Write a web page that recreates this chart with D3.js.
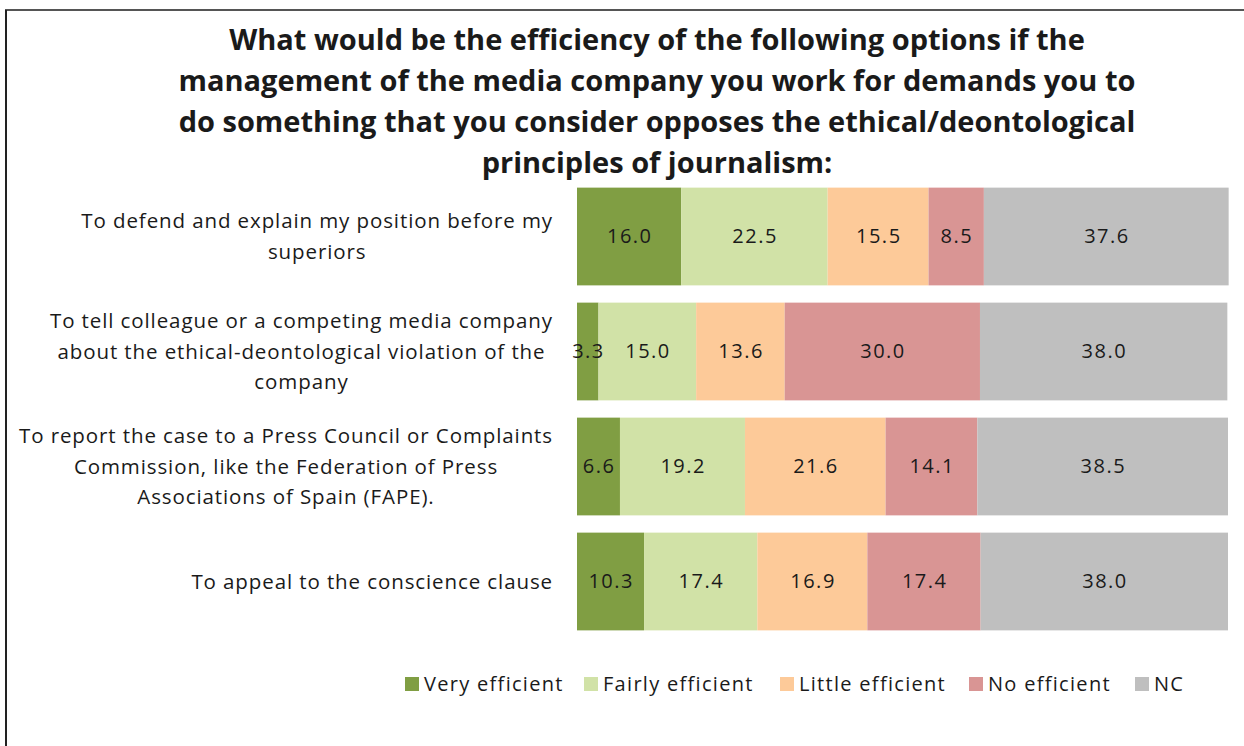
<!DOCTYPE html>
<html>
<head>
<meta charset="utf-8">
<script src="https://cdn.jsdelivr.net/npm/d3@7"></script>
<style>
  body { margin: 0; background: #fff; }
  svg { display: block; }
  text { font-family: "Open Sans", sans-serif; fill: #1a1a1a; }
</style>
</head>
<body>
<svg width="1244" height="746"></svg>
<script>
var titleLines = [
  "What would be the efficiency of the following options if the",
  "management of the media company you work for demands you to",
  "do something that you consider opposes the ethical/deontological",
  "principles of journalism:"
];

var categories = [
  ["To defend and explain my position before my", "superiors"],
  ["To tell colleague or a competing media company", "about the ethical-deontological violation of the", "company"],
  ["To report the case to a Press Council or Complaints", "Commission, like the Federation of Press", "Associations of Spain (FAPE)."],
  ["To appeal to the conscience clause"]
];

var seriesNames = ["Very efficient", "Fairly efficient", "Little efficient", "No efficient", "NC"];
var colors = ["#809e43", "#d1e2a7", "#fdca99", "#d99594", "#bfbfbf"];

var veryEfficient   = [16.0, 3.3, 6.6, 10.3];
var fairlyEfficient = [22.5, 15.0, 19.2, 17.4];
var littleEfficient = [15.5, 13.6, 21.6, 16.9];
var noEfficient     = [8.5, 30.0, 14.1, 17.4];
var nc              = [37.6, 38.0, 38.5, 38.0];

var series = [veryEfficient, fairlyEfficient, littleEfficient, noEfficient, nc];

var svg = d3.select("svg");

// frame lines
svg.append("line").attr("x1", 5).attr("x2", 1244).attr("y1", 10).attr("y2", 10)
  .attr("stroke", "#555").attr("stroke-width", 2);
svg.append("line").attr("x1", 6).attr("x2", 6).attr("y1", 10).attr("y2", 746)
  .attr("stroke", "#222").attr("stroke-width", 2);

// title
svg.append("g").selectAll("text")
  .data(titleLines)
  .enter().append("text")
    .attr("x", 657)
    .attr("y", function(d, i) { return 50 + i * 41; })
    .attr("text-anchor", "middle")
    .style("font-weight", "bold")
    .style("font-size", "29px")
    .text(function(d) { return d; });

var rows = categories.map(function(c, i) {
  var row = { index: i, lines: c };
  var x0 = 0;
  row.segs = series.map(function(s, j) {
    var seg = { key: j, x0: x0, x1: x0 + s[i], value: s[i] };
    x0 += s[i];
    return seg;
  });
  return row;
});

var x = d3.scaleLinear().domain([0, 100]).range([577, 1228]);
var y = d3.scaleBand().domain(d3.range(categories.length)).range([179, 639]).paddingInner(0.15).paddingOuter(0.075);

var rowG = svg.append("g").selectAll("g")
  .data(rows)
  .enter().append("g");

rowG.selectAll("rect")
  .data(function(d) { return d.segs; })
  .enter().append("rect")
    .attr("x", function(d) { return x(d.x0); })
    .attr("width", function(d) { return x(d.x1) - x(d.x0); })
    .attr("y", function(d) { return y(this.parentNode.__data__.index); })
    .attr("height", y.bandwidth())
    .attr("fill", function(d) { return colors[d.key]; });

rowG.selectAll("text.val")
  .data(function(d) { return d.segs; })
  .enter().append("text")
    .attr("class", "val")
    .attr("x", function(d) { return (x(d.x0) + x(d.x1)) / 2 + 0.7; })
    .attr("y", function(d) { return y(this.parentNode.__data__.index) + y.bandwidth() / 2 + 6; })
    .attr("text-anchor", "middle")
    .style("font-size", "20px")
    .style("letter-spacing", "1.5px")
    .text(function(d) { return d.value.toFixed(1); });

// category labels: centred block, right edge of widest line at 553
var lineH = 30.5;
rowG.each(function(d) {
  var g = d3.select(this).append("g");
  var cy = y(d.index) + y.bandwidth() / 2;
  var top = cy - (d.lines.length - 1) * lineH / 2;
  var t = g.selectAll("text")
    .data(d.lines)
    .enter().append("text")
      .attr("y", function(l, i) { return top + i * lineH + 7; })
      .attr("text-anchor", "middle")
      .style("font-size", "20.5px")
      .style("letter-spacing", "0.9px")
      .text(function(l) { return l; });
  var w = d3.max(t.nodes(), function(n) { return n.getComputedTextLength(); });
  t.attr("x", 553 - w / 2);
});

// legend
var legendX = [405, 584, 780, 969, 1135];
var leg = svg.append("g").selectAll("g")
  .data(seriesNames)
  .enter().append("g")
    .attr("transform", function(d, i) { return "translate(" + legendX[i] + ",677)"; });
leg.append("rect").attr("width", 14).attr("height", 14)
  .attr("fill", function(d, i) { return colors[i]; });
leg.append("text").attr("x", 19).attr("y", 14)
  .style("font-size", "20px")
  .style("letter-spacing", "1.3px")
  .text(function(d) { return d; });
</script>
</body>
</html>
